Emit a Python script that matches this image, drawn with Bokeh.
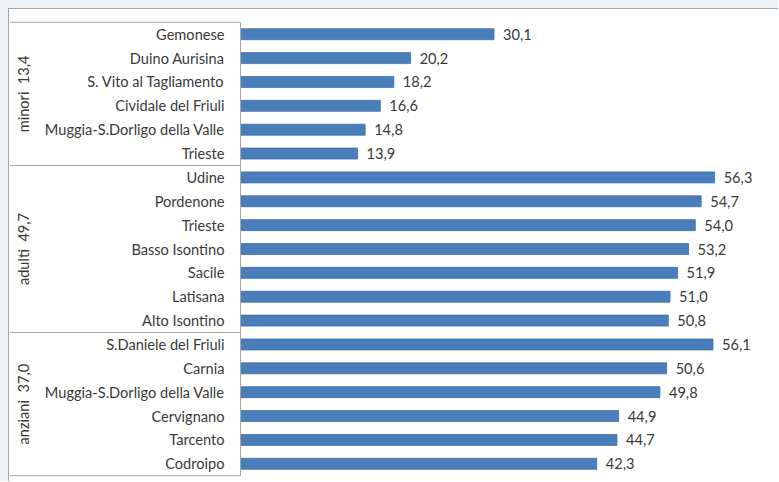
import numpy as np
from bokeh.plotting import figure
from bokeh.models import FactorRange, Range1d, ColumnDataSource
from bokeh.core.properties import value
from bokeh.embed import file_html
from bokeh.resources import INLINE

groups = ["minori", "adulti", "anziani"]
group_values = [13.4, 49.7, 37.0]
minori_names = ["Gemonese", "Duino Aurisina", "S. Vito al Tagliamento", "Cividale del Friuli",
                "Muggia-S.Dorligo della Valle", "Trieste"]
minori_values = [30.1, 20.2, 18.2, 16.6, 14.8, 13.9]
adulti_names = ["Udine", "Pordenone", "Trieste", "Basso Isontino", "Sacile", "Latisana", "Alto Isontino"]
adulti_values = [56.3, 54.7, 54.0, 53.2, 51.9, 51.0, 50.8]
anziani_names = ["S.Daniele del Friuli", "Carnia", "Muggia-S.Dorligo della Valle", "Cervignano",
                 "Tarcento", "Codroipo"]
anziani_values = [56.1, 50.6, 49.8, 44.9, 44.7, 42.3]

names_by_group = [minori_names, adulti_names, anziani_names]
values_by_group = [minori_values, adulti_values, anziani_values]

FONT = "Lato"
FSIZE = "14.6px"
TEXT_COLOR = "#3a3a3a"
LINE_COLOR = "#a6a6a6"
BG = "#eef3f8"

factors, names, vals = [], [], []
for g, ns, vs in zip(groups, names_by_group, values_by_group):
    for n, v in zip(ns, vs):
        factors.append((g, n))
        names.append(n)
        vals.append(v)

# top of the chart is the first factor -> reverse for bottom-up categorical axis
y_range = FactorRange(factors=list(reversed(factors)), factor_padding=0, group_padding=0,
                      subgroup_padding=0, range_padding=0.03)

x_start, x_end = -27.43, 64.0
p = figure(width=770, height=473, y_range=y_range, x_range=Range1d(x_start, x_end),
           output_backend="svg", toolbar_location=None,
           x_axis_location=None, y_axis_location=None,
           min_border_left=0, min_border_right=0, min_border_top=6, min_border_bottom=0,
           styles={"margin-top": "8px", "margin-left": "8px",
                   "border-top": f"1px solid {LINE_COLOR}", "border-left": f"1px solid {LINE_COLOR}",
                   "box-shadow": f"-9px 0 0 {BG}, 0 -9px 0 {BG}, -9px -9px 0 {BG}"})
p.outline_line_color = None
p.grid.visible = False
p.background_fill_color = "white"
p.border_fill_color = "white"

src = ColumnDataSource(dict(y=factors, v=vals, name=names,
                            lab=[f"{v:.1f}".replace(".", ",") for v in vals]))

p.hbar(y="y", left=0, right="v", height=0.46, source=src,
       fill_color="#4a7ebb", line_color="#3f70aa", line_width=0.8)

p.text(x=0, y="y", text="name", source=src, x_offset=-16, text_align="right",
       text_baseline="middle", text_font=value(FONT), text_font_size=FSIZE, text_color=TEXT_COLOR)
p.text(x="v", y="y", text="lab", source=src, x_offset=9, text_align="left",
       text_baseline="middle", text_font=value(FONT), text_font_size=FSIZE, text_color=TEXT_COLOR)

# group labels, rotated, centred on each group
glabels = [f"{g}\u00a0\u00a0{str(gv).replace('.', ',')}" for g, gv in zip(groups, group_values)]
p.text(x=x_start, y=groups, text=glabels, angle=np.pi / 2, x_offset=14,
       text_align="center", text_baseline="middle", text_font=value(FONT),
       text_font_size=FSIZE, text_color=TEXT_COLOR)

# group box lines (boundaries from cumulative group sizes, bottom-up synthetic coords)
sizes = [len(n) for n in names_by_group]
bounds = np.concatenate([[0], np.cumsum(sizes[::-1])]).tolist()
p.segment(x0=x_start, x1=0, y0=bounds, y1=bounds, line_color=LINE_COLOR, line_width=1)
p.segment(x0=[0], x1=[0], y0=[bounds[0]], y1=[bounds[-1]], line_color=LINE_COLOR, line_width=1)

open("out.html", "w").write(file_html(p, INLINE))
